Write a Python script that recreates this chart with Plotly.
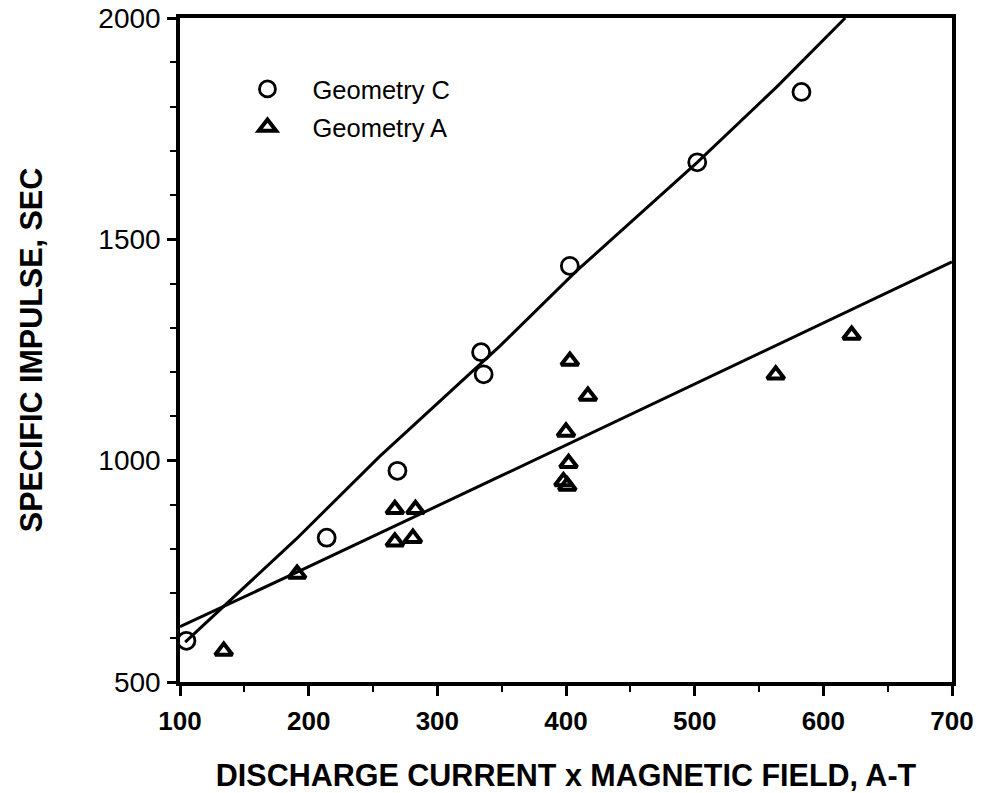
import plotly.graph_objects as go

# --- data ---
geom_c_x = [105, 214, 269, 334, 336, 403, 502, 583]
geom_c_y = [593, 826, 977, 1245, 1195, 1440, 1674, 1833]

geom_a_x = [134, 191, 267, 283, 267, 281, 403, 417, 400, 402, 398, 401, 563, 622]
geom_a_y = [570, 744, 890, 890, 817, 825, 1225, 1146, 1065, 994, 953, 943, 1194, 1284]

fit_c_x = [104, 190, 255, 349, 408, 502, 564, 617]
fit_c_y = [590, 822, 1009, 1260, 1428, 1674, 1845, 2000]

fit_a_x = [100, 191, 349, 447, 582, 700]
fit_a_y = [625, 748, 965, 1100, 1287, 1449]

x_ticks = [100, 200, 300, 400, 500, 600, 700]
y_ticks = [500, 1000, 1500, 2000]

FONT = "Liberation Sans, Arial, sans-serif"

fig = go.Figure()

fig.add_trace(go.Scatter(x=fit_c_x, y=fit_c_y, mode="lines",
                         line=dict(color="black", width=3), showlegend=False,
                         hoverinfo="skip"))
fig.add_trace(go.Scatter(x=fit_a_x, y=fit_a_y, mode="lines",
                         line=dict(color="black", width=3), showlegend=False,
                         hoverinfo="skip"))

fig.add_trace(go.Scatter(x=geom_c_x, y=geom_c_y, mode="markers", name="Geometry C",
                         legendgroup="c",
                         marker=dict(symbol="circle-open", size=17, color="black",
                                     line=dict(width=2.8, color="black"))))
fig.add_trace(go.Scatter(x=geom_a_x, y=geom_a_y, mode="markers", name="Geometry A",
                         legendgroup="a",
                         marker=dict(symbol="triangle-up-open", size=15, color="black",
                                     line=dict(width=4, color="black"))))

fig.update_layout(
    width=984, height=793,
    margin=dict(l=180, r=32, t=18, b=111, autoexpand=False),
    paper_bgcolor="white", plot_bgcolor="white",
    font=dict(family=FONT, color="black"),
    legend=dict(x=0.055, y=0.928, xanchor="left", yanchor="top",
                bgcolor="rgba(0,0,0,0)", borderwidth=0,
                font=dict(size=25.5, family=FONT, color="black"),
                itemwidth=80, tracegroupgap=2),
    xaxis=dict(
        range=[100, 700], tickmode="array", tickvals=x_ticks,
        ticktext=[str(v) for v in x_ticks],
        showgrid=False, zeroline=False,
        showline=True, linecolor="black", linewidth=3.5, mirror=True,
        ticks="outside", ticklen=10, tickwidth=2.5, tickcolor="black",
        minor=dict(dtick=50, ticks="outside", ticklen=6, tickwidth=2, tickcolor="black", showgrid=False),
        tickfont=dict(size=26, family=FONT, weight="bold"),
        ticklabelstandoff=3,
        title=dict(text="DISCHARGE CURRENT x MAGNETIC FIELD, A-T",
                   font=dict(size=30.5, family=FONT, weight="bold"), standoff=31),
    ),
    yaxis=dict(
        range=[500, 2000], tickmode="array", tickvals=y_ticks,
        ticktext=[str(v) for v in y_ticks],
        showgrid=False, zeroline=False,
        showline=True, linecolor="black", linewidth=3.5, mirror=True,
        ticks="outside", ticklen=9, tickwidth=2.5, tickcolor="black",
        minor=dict(dtick=100, ticks="outside", ticklen=6, tickwidth=2, tickcolor="black", showgrid=False),
        tickfont=dict(size=28, family=FONT),
        ticklabelstandoff=1,
        title=dict(text="SPECIFIC IMPULSE, SEC",
                   font=dict(size=30.5, family=FONT, weight="bold"), standoff=48),
    ),
)

fig.write_html("out.html")
